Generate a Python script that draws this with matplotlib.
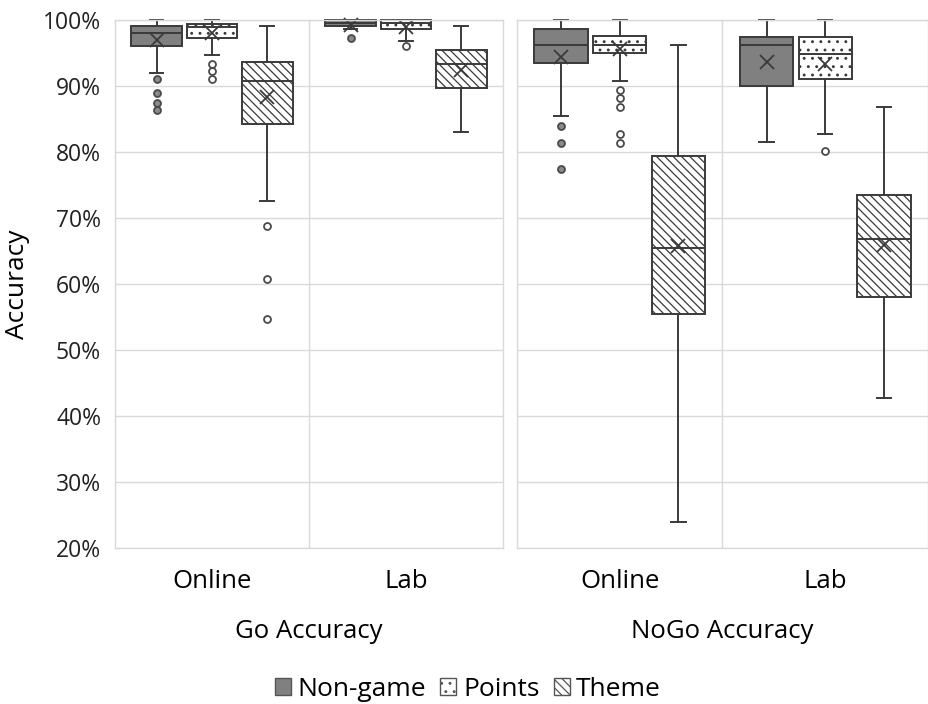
import matplotlib
matplotlib.use("Agg")
import matplotlib.pyplot as plt
from matplotlib.patches import Patch
from matplotlib.ticker import PercentFormatter

plt.rcParams['font.family'] = ['Open Sans', 'DejaVu Sans']
plt.rcParams['hatch.linewidth'] = 0.9

# ---------------- data (percent) ----------------
panels = ["Go Accuracy", "NoGo Accuracy"]
settings = ["Online", "Lab"]
series = ["Non-game", "Points", "Theme"]
# order of each list: Go-Online, Go-Lab, NoGo-Online, NoGo-Lab
nongame_whislo = [91.9, 98.6, 85.5, 81.5]
nongame_q1     = [96.0, 99.1, 93.5, 90.0]
nongame_med    = [98.1, 99.5, 96.2, 96.2]
nongame_q3     = [99.1, 100.0, 98.7, 97.5]
nongame_whishi = [100.0, 100.0, 100.0, 100.0]
nongame_mean   = [97.0, 99.3, 94.4, 93.6]
nongame_fliers = [[91.1, 88.9, 87.5, 86.3], [97.2], [84.0, 81.4, 77.4], []]

points_whislo = [94.7, 96.8, 90.8, 82.8]
points_q1     = [97.3, 98.6, 95.0, 91.0]
points_med    = [99.0, 99.6, 96.2, 94.8]
points_q3     = [99.4, 100.0, 97.6, 97.5]
points_whishi = [100.0, 100.0, 100.0, 100.0]
points_mean   = [98.0, 99.0, 95.6, 93.3]
points_fliers = [[93.3, 92.2, 91.1], [96.0], [89.4, 88.2, 86.8, 82.8, 81.4], [80.2]]

theme_whislo = [72.5, 83.0, 24.0, 42.7]
theme_q1     = [84.3, 89.7, 55.5, 58.1]
theme_med    = [90.7, 93.4, 65.4, 66.8]
theme_q3     = [93.7, 95.4, 79.4, 73.5]
theme_whishi = [99.1, 99.1, 96.2, 86.8]
theme_mean   = [88.3, 92.4, 65.8, 65.9]
theme_fliers = [[68.8, 60.8, 54.7], [], [], []]

yticks = [20, 30, 40, 50, 60, 70, 80, 90, 100]

# ---------------- styles ----------------
data = {
    "Non-game": (nongame_whislo, nongame_q1, nongame_med, nongame_q3, nongame_whishi, nongame_mean, nongame_fliers),
    "Points": (points_whislo, points_q1, points_med, points_q3, points_whishi, points_mean, points_fliers),
    "Theme": (theme_whislo, theme_q1, theme_med, theme_q3, theme_whishi, theme_mean, theme_fliers),
}
face = {"Non-game": "#808080", "Points": "white", "Theme": "white"}
hatch = {"Non-game": None, "Points": "..", "Theme": "\\\\\\\\"}
flier_face = {"Non-game": "#8a8a8a", "Points": "white", "Theme": "white"}
offsets = {"Non-game": -0.285, "Points": 0.0, "Theme": 0.285}
edge = "#3a3a3a"
grid_c = "#d9d9d9"

fig = plt.figure(figsize=(9.29, 7.04), dpi=100)
axes = [fig.add_axes([115/929, 156/704, 388/929, 528/704]),
        fig.add_axes([517/929, 156/704, 411/929, 528/704])]

for p, ax in enumerate(axes):
    for s in series:
        wl, q1, md, q3, wh, mn, fl = data[s]
        stats, pos = [], []
        for g in range(2):
            i = p * 2 + g
            stats.append(dict(whislo=wl[i], q1=q1[i], med=md[i], q3=q3[i],
                              whishi=wh[i], mean=mn[i], fliers=fl[i]))
            pos.append(g + 0.5 + offsets[s])
        b = ax.bxp(stats, positions=pos, widths=0.26, patch_artist=True,
                   showmeans=True, capwidths=0.07,
                   boxprops=dict(facecolor=face[s], edgecolor=edge, linewidth=1.4),
                   medianprops=dict(color=edge, linewidth=1.4),
                   whiskerprops=dict(color=edge, linewidth=1.4),
                   capprops=dict(color=edge, linewidth=1.4),
                   meanprops=dict(marker='x', markeredgecolor=edge, markersize=10,
                                  markeredgewidth=1.3),
                   flierprops=dict(marker='o', markersize=5, markerfacecolor=flier_face[s],
                                   markeredgecolor="#4a4a4a", markeredgewidth=1.3))
        for key in b:
            for art in b[key]:
                art.set_clip_on(False)
        if hatch[s]:
            for patch in b['boxes']:
                patch.set_hatch(hatch[s])
    ax.set_xlim(0, 2)
    ax.set_ylim(20, 100)
    ax.set_yticks(yticks)
    ax.yaxis.grid(True, color=grid_c, linewidth=1.0)
    ax.set_axisbelow(True)
    ax.axvline(1, color=grid_c, linewidth=1.0, zorder=0)
    for sp in ax.spines.values():
        sp.set_color(grid_c)
        sp.set_linewidth(1.0)
    ax.tick_params(length=0)
    ax.set_xticks([0.5, 1.5])
    ax.set_xticklabels(settings, fontsize=18.5)
    ax.tick_params(axis='x', pad=15)
    ax.set_xlabel(panels[p], fontsize=18.5, labelpad=18)
    if p == 0:
        ax.yaxis.set_major_formatter(PercentFormatter(decimals=0))
        ax.tick_params(axis='y', labelsize=16.5, pad=10, labelcolor="#222222")
        ax.set_ylabel("Accuracy", fontsize=19, labelpad=9)
    else:
        ax.tick_params(axis='y', labelleft=False)

handles = [Patch(facecolor=face[s], edgecolor="#555555", hatch=hatch[s], label=s) for s in series]
fig.legend(handles=handles, loc='center', bbox_to_anchor=(468/929, 1 - 689/704), ncol=3,
           frameon=False, fontsize=19, handlelength=0.6, handleheight=0.6,
           handletextpad=0.25, columnspacing=0.55)

fig.savefig("out.png", dpi=100)
